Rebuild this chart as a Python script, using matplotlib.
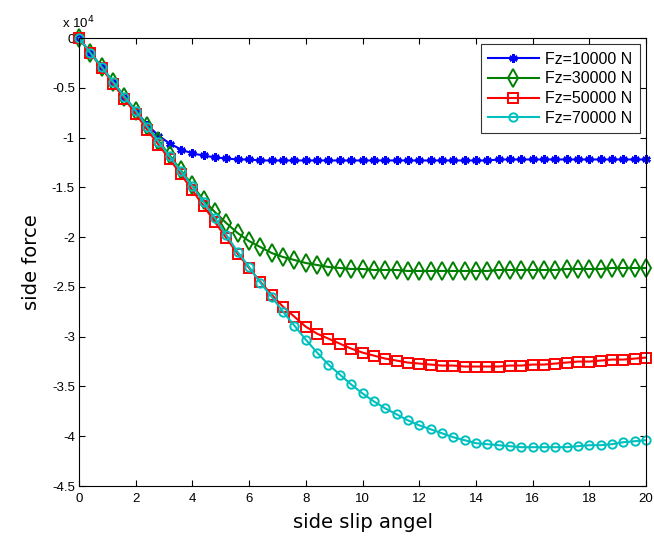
"""
Side force vs side slip angle for four vertical loads (MATLAB-style figure).
"""

import numpy as np
import matplotlib
matplotlib.use("Agg")
import matplotlib.pyplot as plt
from matplotlib.ticker import FixedLocator, FuncFormatter

# side slip angle samples (0 to 20, step 0.4)
slip = np.arange(51) * 0.4

# side force, units of 1e4 N
fy_10k = [0, -0.15, -0.29, -0.44, -0.59, -0.73, -0.87, -0.98, -1.06, -1.12,
          -1.16, -1.18, -1.20, -1.21, -1.22, -1.22, -1.23, -1.23, -1.23, -1.23,
          -1.23, -1.23, -1.23, -1.23, -1.23, -1.23, -1.23, -1.23, -1.23, -1.23,
          -1.23, -1.23, -1.23, -1.23, -1.23, -1.23, -1.23, -1.22, -1.22, -1.22,
          -1.22, -1.22, -1.22, -1.22, -1.22, -1.22, -1.22, -1.22, -1.22, -1.22,
          -1.22]
fy_30k = [0, -0.15, -0.29, -0.44, -0.59, -0.73, -0.88, -1.03, -1.18, -1.33,
          -1.48, -1.63, -1.75, -1.86, -1.96, -2.04, -2.10, -2.16, -2.20, -2.23,
          -2.26, -2.28, -2.30, -2.31, -2.32, -2.32, -2.33, -2.33, -2.33, -2.34,
          -2.34, -2.34, -2.34, -2.34, -2.34, -2.34, -2.34, -2.33, -2.33, -2.33,
          -2.33, -2.33, -2.33, -2.32, -2.32, -2.32, -2.32, -2.31, -2.31, -2.31,
          -2.31]
fy_50k = [0, -0.15, -0.30, -0.46, -0.61, -0.76, -0.92, -1.07, -1.22, -1.37,
          -1.53, -1.69, -1.85, -2.01, -2.17, -2.31, -2.45, -2.58, -2.70, -2.80,
          -2.90, -2.97, -3.02, -3.07, -3.12, -3.16, -3.19, -3.22, -3.24, -3.26,
          -3.27, -3.28, -3.29, -3.29, -3.30, -3.30, -3.30, -3.30, -3.29, -3.29,
          -3.28, -3.28, -3.27, -3.26, -3.25, -3.25, -3.24, -3.23, -3.23, -3.22,
          -3.21]
fy_70k = [0, -0.15, -0.29, -0.44, -0.59, -0.73, -0.89, -1.04, -1.19, -1.34,
          -1.49, -1.65, -1.81, -1.98, -2.15, -2.30, -2.46, -2.60, -2.75, -2.89,
          -3.03, -3.16, -3.28, -3.38, -3.48, -3.57, -3.65, -3.72, -3.78, -3.84,
          -3.89, -3.93, -3.97, -4.01, -4.04, -4.07, -4.08, -4.09, -4.10, -4.11,
          -4.11, -4.11, -4.11, -4.11, -4.10, -4.09, -4.09, -4.08, -4.06, -4.05,
          -4.04]

labels = ["Fz=10000 N", "Fz=30000 N", "Fz=50000 N", "Fz=70000 N"]
x_ticks = list(range(0, 21, 2))
y_ticks = [0, -0.5, -1, -1.5, -2, -2.5, -3, -3.5, -4, -4.5]

plt.rcParams["font.family"] = ["Liberation Sans", "DejaVu Sans"]

fig = plt.figure(figsize=(6.54, 5.47), dpi=100)
ax = fig.add_axes([0.1208, 0.1115, 0.867, 0.819])

styles = [
    dict(color=(0, 0, 1), marker=(6, 2, 0), ms=6, mew=1.8),
    dict(color=(0, 0.5, 0), marker="d", ms=9, mew=1.4, mfc="none"),
    dict(color=(1, 0, 0), marker="s", ms=6.5, mew=1.4, mfc="none"),
    dict(color=(0, 0.75, 0.75), marker="o", ms=6, mew=1.4, mfc="none"),
]
series = [fy_10k, fy_30k, fy_50k, fy_70k]
for fy, lab, st in zip(series, labels, styles):
    ax.plot(slip, fy, lw=1.5, label=lab, clip_on=False, **st)

ax.set_xlim(0, 20)
ax.set_ylim(-4.5, 0)
ax.xaxis.set_major_locator(FixedLocator(x_ticks))
ax.yaxis.set_major_locator(FixedLocator(y_ticks))
ax.yaxis.set_major_formatter(FuncFormatter(lambda v, p: f"{v:g}"))
ax.tick_params(direction="in", length=4, width=0.8, top=True, right=True,
               labelsize=9.5)
ax.tick_params(axis="x", pad=5)
ax.tick_params(axis="y", pad=3)
for sp in ax.spines.values():
    sp.set_linewidth(0.8)

ax.text(-0.03, 1.016, r"x 10$^4$", transform=ax.transAxes, fontsize=9.5,
        ha="left", va="bottom")

ax.set_xlabel("side slip angel", fontsize=14, family=["DejaVu Sans"], labelpad=6)
ax.set_ylabel("side force", fontsize=14, family=["DejaVu Sans"], labelpad=8)

leg = ax.legend(loc="upper right", fontsize=11.5, frameon=True, fancybox=False,
                edgecolor="black", borderaxespad=0.4, handlelength=3.2,
                labelspacing=0.3, handletextpad=0.4, borderpad=0.45)
leg.get_frame().set_linewidth(0.8)

fig.savefig("out.png", dpi=100)
